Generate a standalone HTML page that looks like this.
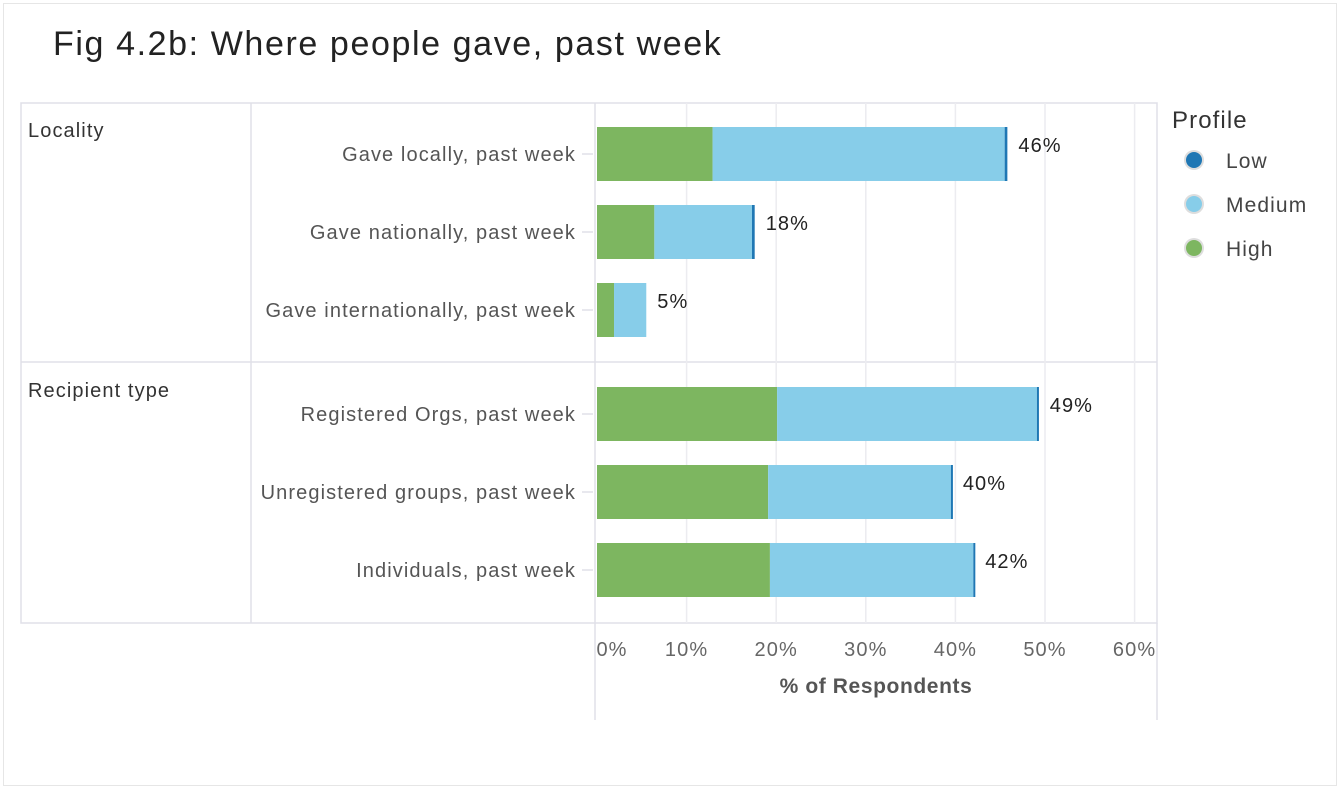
<!DOCTYPE html>
<html><head><meta charset="utf-8"><style>
body{margin:0;background:#fff;font-family:"Liberation Sans",sans-serif;}
#wrap{position:relative;width:1340px;height:788px;}
text{letter-spacing:1.1px;}
</style></head><body>
<div id="wrap">
<svg width="1340" height="788" xmlns="http://www.w3.org/2000/svg" id="svg">
<rect x="3.5" y="3.5" width="1333" height="782" fill="#fff" stroke="#e6e6e6"/>
<text x="53" y="55" font-size="34" fill="#222" style="letter-spacing:1.6px">Fig 4.2b: Where people gave, past week</text>
<g id="frame" stroke="#e0e0e8" fill="none" stroke-width="1.5">
<rect x="21" y="103" width="1136" height="520"/>
<line x1="251" y1="103" x2="251" y2="623"/>
<line x1="21" y1="362" x2="1157" y2="362"/>
<line x1="595" y1="103" x2="595" y2="720"/>
<line x1="1157" y1="623" x2="1157" y2="720"/>
</g>
<text x="28" y="137" font-size="20" fill="#333">Locality</text>
<text x="28" y="397" font-size="20" fill="#333">Recipient type</text>
<g id="grid"></g><g id="bars"></g><g id="labels"></g>
<text x="876" y="693" font-size="21" font-weight="bold" fill="#555" text-anchor="middle" style="letter-spacing:0.6px">% of Respondents</text>
<text x="1172" y="128" font-size="24" fill="#333">Profile</text>
<g id="legend"></g>
</svg></div>
<script>
const categories=["Gave locally, past week","Gave nationally, past week","Gave internationally, past week","Registered Orgs, past week","Unregistered groups, past week","Individuals, past week"];
const highVals=[12.9,6.4,1.9,20.1,19.1,19.3];
const mediumVals=[32.6,10.9,3.6,29.0,20.4,22.7];
const lowVals=[0.3,0.3,0.0,0.2,0.1,0.1];
const totalLabels=["46%","18%","5%","49%","40%","42%"];
const xTicks=[0,10,20,30,40,50,60];
const ns="http://www.w3.org/2000/svg";
const x=v=>597+v*8.96;
const rowY=[154,232,310,414,492,570];
function mk(t,a,p){const e=document.createElementNS(ns,t);for(const k in a)e.setAttribute(k,a[k]);p.appendChild(e);return e;}
const grid=document.getElementById('grid'),bars=document.getElementById('bars'),labels=document.getElementById('labels');
xTicks.forEach((t,i)=>{
 if(i>0){const l=mk('line',{x1:x(t),x2:x(t),y1:103,y2:623,stroke:'#ececf0','stroke-width':1.5},grid);
 
 }
 const tx=mk('text',{x:i==0?x(t)+15:x(t),y:656,'font-size':20,fill:'#666','text-anchor':'middle'},labels);tx.textContent=t+'%';
 
 
});
categories.forEach((c,i)=>{
 const y=rowY[i]-27,h=54;
 mk('line',{x1:582,x2:593,y1:rowY[i],y2:rowY[i],stroke:'#e0e0e8','stroke-width':1.5},grid);
 const lab=mk('text',{x:576,y:rowY[i]+7,'font-size':20,fill:'#555','text-anchor':'end'},labels);lab.textContent=c;
 
 
 let s=0;
 [[highVals[i],'#7db660','high'],[mediumVals[i],'#87cde9','medium'],[lowVals[i],'#1f77b4','low']].forEach(([v,col,n])=>{
  if(v<=0)return;
  const r=mk('rect',{x:x(s),y:y,width:Math.max(x(s+v)-x(s),2),height:h,fill:col},bars);
  
  
  s+=v;});
 const tl=mk('text',{x:x(s)+11,y:rowY[i]-2,'font-size':20,fill:'#222'},labels);tl.textContent=totalLabels[i];
 
 
});
const leg=document.getElementById('legend');
[['Low','#1f77b4'],['Medium','#87cde9'],['High','#7db660']].forEach(([n,c],i)=>{
 const cy=160+i*44;
 const g=mk('g',{},leg);
 
 
 mk('circle',{cx:1194,cy:cy,r:10,fill:'#ddd'},g);
 mk('circle',{cx:1194,cy:cy,r:8,fill:c},g);
 const t=mk('text',{x:1226,y:cy+8,'font-size':21,fill:'#444'},g);t.textContent=n;
});
</script></body></html>
